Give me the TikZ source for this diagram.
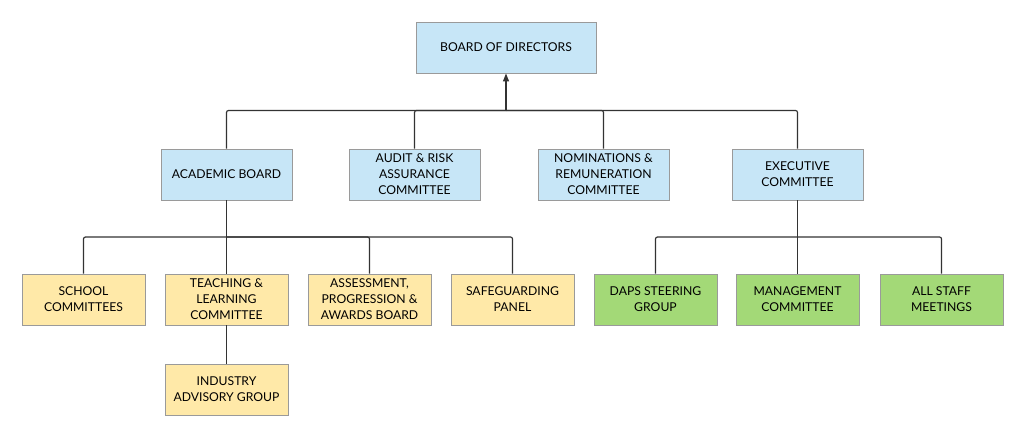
\documentclass[tikz,border=0pt]{standalone}
\usepackage{fontspec}
\setmainfont{Lato}
\usetikzlibrary{arrows.meta}
\definecolor{bblue}{HTML}{C7E6F7}
\definecolor{byellow}{HTML}{FFE9A8}
\definecolor{bgreen}{HTML}{A3D977}
\definecolor{bborder}{HTML}{9A9A9A}
\definecolor{lineclr}{HTML}{333333}
\tikzset{
  box/.style={draw=bborder, line width=0.9pt, minimum height=51pt, align=center,
    inner sep=2pt, font=\fontsize{12.2}{16}\selectfont, text=black},
  bluebox/.style={box, fill=bblue, minimum width=131pt},
  yelbox/.style={box, fill=byellow, minimum width=123pt},
  grnbox/.style={box, fill=bgreen, minimum width=123pt},
  conn/.style={draw=lineclr, line width=1.2pt, rounded corners=2pt},
}
\begin{document}
\begin{tikzpicture}[x=1pt,y=-1pt]
\useasboundingbox (0,0) rectangle (1024,438);
\node[bluebox, minimum width=180pt] (bod) at (506,47.5) {BOARD OF DIRECTORS};
\node[bluebox] (acad) at (226.5,174.5) {ACADEMIC BOARD};
\node[bluebox] (audit) at (414.5,174.5) {AUDIT \& RISK\\ASSURANCE\\COMMITTEE};
\node[bluebox] (nom) at (603.5,174.5) {NOMINATIONS \&\\REMUNERATION\\COMMITTEE};
\node[bluebox] (exec) at (797.5,174.5) {EXECUTIVE\\COMMITTEE};
\node[yelbox] (school) at (83.5,299.5) {SCHOOL\\COMMITTEES};
\node[yelbox] (teach) at (226.5,299.5) {TEACHING \&\\LEARNING\\COMMITTEE};
\node[yelbox] (assess) at (369.5,299.5) {ASSESSMENT,\\PROGRESSION \&\\AWARDS BOARD};
\node[yelbox] (safe) at (512.5,299.5) {SAFEGUARDING\\PANEL};
\node[yelbox] (ind) at (226.5,389.5) {INDUSTRY\\ADVISORY GROUP};
\node[grnbox] (daps) at (655.5,299.5) {DAPS STEERING\\GROUP};
\node[grnbox] (mgmt) at (797.5,299.5) {MANAGEMENT\\COMMITTEE};
\node[grnbox] (staff) at (941.5,299.5) {ALL STAFF\\MEETINGS};
\coordinate (j1) at (506,110.5);
\coordinate (j2) at (226.5,237);
\coordinate (j3) at (797.5,237);
\draw[conn, -{Triangle[length=8pt,width=6pt]}] (j1) -- (bod.south);
\draw[conn] (acad.north) |- (j1);
\draw[conn] (audit.north) |- (j1);
\draw[conn] (nom.north) |- (j1);
\draw[conn] (exec.north) |- (j1);
\draw[conn] (acad.south) -- (teach.north);
\draw[conn] (school.north) |- (j2);
\draw[conn] (assess.north) |- (j2);
\draw[conn] (safe.north) |- (j2);
\draw[conn] (teach.south) -- (ind.north);
\draw[conn] (exec.south) -- (mgmt.north);
\draw[conn] (daps.north) |- (j3);
\draw[conn] (staff.north) |- (j3);
\end{tikzpicture}
\end{document}
